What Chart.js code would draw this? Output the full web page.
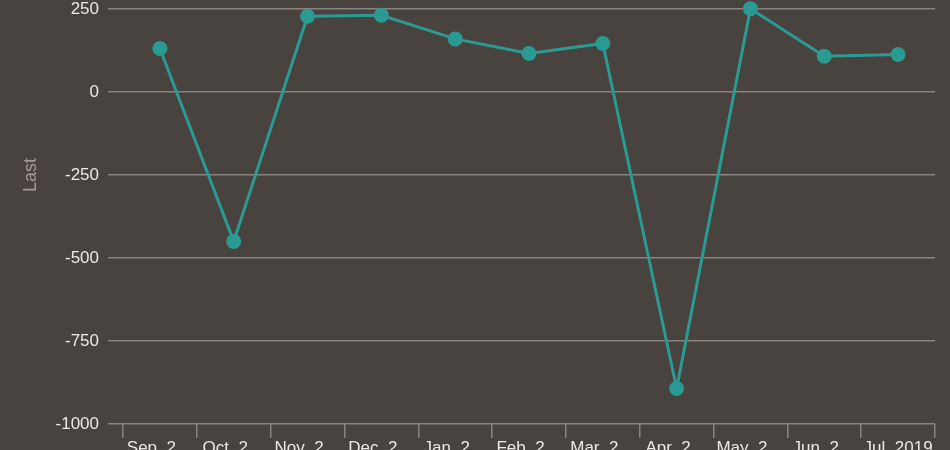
<!DOCTYPE html>
<html>
<head>
<meta charset="utf-8">
<script src="https://cdn.jsdelivr.net/npm/chart.js@4/dist/chart.umd.min.js"></script>
<style>
  html, body { margin: 0; padding: 0; background: #48433f; }
  #wrap { width: 950px; height: 450px; }
</style>
</head>
<body>
<div id="wrap"><canvas id="grafico"></canvas></div>
<script>
const meses = ["Sep_2…", "Oct_2…", "Nov_2…", "Dec_2…", "Jan_2…", "Feb_2…", "Mar_2…", "Apr_2…", "May_2…", "Jun_2…", "Jul_2019"];
const valores = [131, -450, 228, 231, 160, 116, 146, -893, 251, 108, 113];
const ticksY = [-1000, -750, -500, -250, 0, 250];
const tituloY = "Last";

const corGrade = "#8a8480";
const corTexto = "#ece8e4";
const fonte = "Liberation Sans, Arial";

// titulo do eixo Y fica um pouco acima do centro no original
const tituloEixo = {
  id: "tituloEixo",
  afterDraw(chart) {
    const c = chart.ctx;
    c.save();
    c.translate(31, 175);
    c.rotate(-Math.PI / 2);
    c.fillStyle = "#a29b95";
    c.font = "18px " + fonte;
    c.textAlign = "center";
    c.textBaseline = "middle";
    c.fillText(tituloY, 0, 0);
    c.restore();
  }
};

const ctx = document.getElementById("grafico").getContext("2d");

new Chart(ctx, {
  type: "line",
  data: {
    labels: meses,
    datasets: [{
      label: tituloY,
      data: valores,
      borderColor: "#2a9a93",
      backgroundColor: "#2a9a93",
      borderWidth: 3,
      pointRadius: 6,
      pointHoverRadius: 6,
      tension: 0,
      clip: false
    }]
  },
  options: {
    responsive: true,
    maintainAspectRatio: false,
    animation: false,
    layout: { padding: { top: 9, right: 15, left: 0, bottom: 0 } },
    plugins: {
      legend: { display: false },
      tooltip: { enabled: false }
    },
    scales: {
      x: {
        offset: true,
        grid: {
          offset: true,
          drawOnChartArea: false,
          drawTicks: true,
          tickLength: 14,
          color: corGrade,
          lineWidth: 1.5
        },
        border: { display: false },
        ticks: {
          color: corTexto,
          padding: 0,
          maxRotation: 0,
          autoSkip: false,
          font: { family: fonte, size: 17 }
        },
        afterFit: (scale) => { scale.height = 26; }
      },
      y: {
        min: -1000,
        max: 250,
        afterBuildTicks: (scale) => { scale.ticks = ticksY.map(v => ({ value: v })); },
        grid: {
          color: corGrade,
          lineWidth: 1.5,
          drawTicks: true,
          tickLength: 15
        },
        border: { display: false },
        ticks: {
          color: corTexto,
          padding: 9,
          font: { family: fonte, size: 17 },
          callback: (v) => String(v)
        },
        afterFit: (scale) => {
          scale.width = 123;
          scale.paddingTop = 0;
          scale.paddingBottom = 0;
        }
      }
    }
  },
  plugins: [tituloEixo]
});
</script>
</body>
</html>
